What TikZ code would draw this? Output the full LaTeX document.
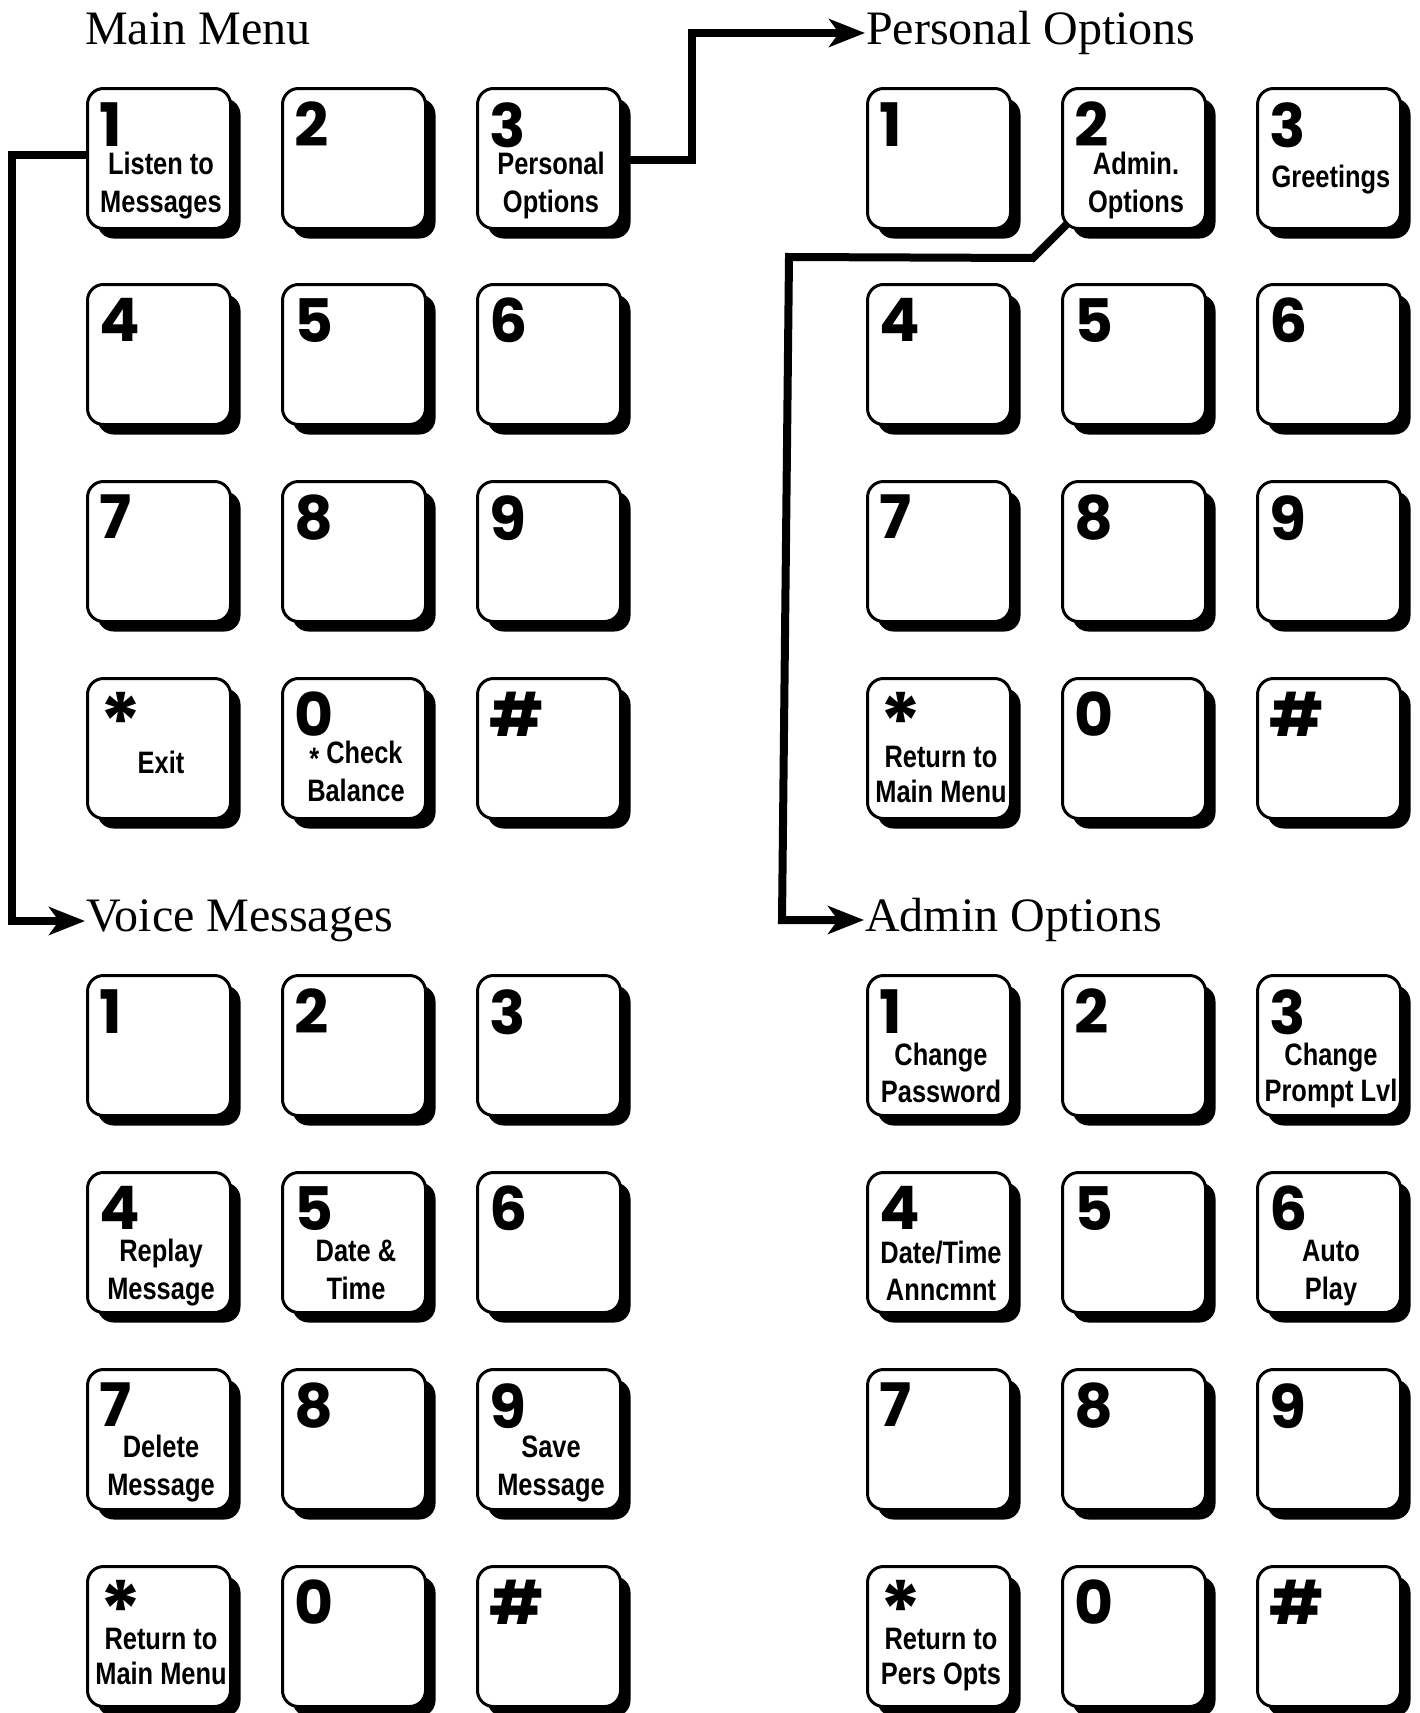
\documentclass[tikz,border=0pt]{standalone}
\usepackage{fontspec}
\usetikzlibrary{shadows,arrows.meta,backgrounds}
\setmainfont{Liberation Serif}
\newfontfamily\labfont{Liberation Sans}[UprightFont=* Bold, FakeStretch=0.82]
\newfontfamily\digfont{Poppins}[UprightFont=* Bold]
\newfontfamily\titlefont{Liberation Serif}
\tikzset{
  keyface/.style={draw, fill=white, line width=3pt, rounded corners=16pt,
    minimum width=143pt, minimum height=140pt, inner sep=0pt, anchor=north west,
    drop shadow={shadow xshift=10pt, shadow yshift=-10pt, opacity=1, fill=black}},
  keydigit/.style={anchor=north west, inner sep=0pt, font=\digfont\fontsize{60}{60}\selectfont},
  keylabel/.style={anchor=base, inner sep=0pt, font=\labfont\fontsize{31}{38}\selectfont},
  menutitle/.style={anchor=base west, inner sep=0pt, font=\titlefont\fontsize{48}{48}\selectfont},
  conn/.style={line width=8pt, -{Stealth[length=36pt,width=28pt,inset=10pt]}}
}
\newcommand\mkkey[4]{%
  \node[keyface] (#1) at (#2,#3) {};
  \node[keydigit] (#1-d) at ([shift={(13pt,-15pt)}]#1.north west) {#4};}
\newcommand\mklab[4][38]{%
  \node[keylabel] (#2-l) at ([xshift=2pt,yshift=-#3pt]#2.north)
    {\fontsize{31}{#1}\selectfont\begin{tabular}[t]{@{}c@{}}#4\end{tabular}};}
\newcommand\bigstar{{\fontsize{80}{80}\selectfont *}}
\begin{document}
\begin{tikzpicture}[x=1pt,y=-1pt]
\useasboundingbox (0,0) rectangle (1419,1713);
% titles
\node[menutitle] (mmT) at (85,44) {Main Menu};
\node[menutitle] (poT) at (866,44) {Personal Options};
\node[menutitle] (vmT) at (86,931) {Voice Messages};
\node[menutitle] (aoT) at (865,931) {Admin Options};
% Main menu
\mkkey{mm1}{86}{87}{1}\mkkey{mm2}{281}{87}{2}\mkkey{mm3}{476}{87}{3}
\mkkey{mm4}{86}{283}{4}\mkkey{mm5}{281}{283}{5}\mkkey{mm6}{476}{283}{6}
\mkkey{mm7}{86}{480}{7}\mkkey{mm8}{281}{480}{8}\mkkey{mm9}{476}{480}{9}
\mkkey{mmS}{86}{677}{\bigstar}\mkkey{mm0}{281}{677}{0}\mkkey{mmH}{476}{677}{\#}
\mklab{mm1}{87}{Listen to\\Messages}
\mklab{mm3}{87}{Personal\\Options}
\mklab{mmS}{96}{Exit}
\mklab{mm0}{86}{\raisebox{-6pt}{*} Check\\Balance}
% Personal options
\mkkey{po1}{866}{87}{1}\mkkey{po2}{1061}{87}{2}\mkkey{po3}{1256}{87}{3}
\mkkey{po4}{866}{283}{4}\mkkey{po5}{1061}{283}{5}\mkkey{po6}{1256}{283}{6}
\mkkey{po7}{866}{480}{7}\mkkey{po8}{1061}{480}{8}\mkkey{po9}{1256}{480}{9}
\mkkey{poS}{866}{677}{\bigstar}\mkkey{po0}{1061}{677}{0}\mkkey{poH}{1256}{677}{\#}
\mklab{po2}{87}{Admin.\\Options}
\mklab{po3}{100}{Greetings}
\mklab[35]{poS}{90}{Return to\\Main Menu}
% Voice messages
\mkkey{vm1}{86}{974}{1}\mkkey{vm2}{281}{974}{2}\mkkey{vm3}{476}{974}{3}
\mkkey{vm4}{86}{1171}{4}\mkkey{vm5}{281}{1171}{5}\mkkey{vm6}{476}{1171}{6}
\mkkey{vm7}{86}{1368}{7}\mkkey{vm8}{281}{1368}{8}\mkkey{vm9}{476}{1368}{9}
\mkkey{vmS}{86}{1565}{\bigstar}\mkkey{vm0}{281}{1565}{0}\mkkey{vmH}{476}{1565}{\#}
\mklab{vm4}{90}{Replay\\Message}
\mklab{vm5}{90}{Date \&\\Time}
\mklab{vm7}{89}{Delete\\Message}
\mklab{vm9}{89}{Save\\Message}
\mklab[35]{vmS}{84}{Return to\\Main Menu}
% Admin options
\mkkey{ao1}{866}{974}{1}\mkkey{ao2}{1061}{974}{2}\mkkey{ao3}{1256}{974}{3}
\mkkey{ao4}{866}{1171}{4}\mkkey{ao5}{1061}{1171}{5}\mkkey{ao6}{1256}{1171}{6}
\mkkey{ao7}{866}{1368}{7}\mkkey{ao8}{1061}{1368}{8}\mkkey{ao9}{1256}{1368}{9}
\mkkey{aoS}{866}{1565}{\bigstar}\mkkey{ao0}{1061}{1565}{0}\mkkey{aoH}{1256}{1565}{\#}
\mklab[37]{ao1}{91}{Change\\Password}
\mklab[36]{ao3}{91}{Change\\Prompt Lvl}
\mklab[37]{ao4}{92}{Date/Time\\Anncmnt}
\mklab{ao6}{90}{Auto\\Play}
\mklab[35]{aoS}{84}{Return to\\Pers Opts}
% connectors
\begin{scope}[on background layer]
\fill[white] (0,0) rectangle (1419,1713);
\coordinate (aVM) at ([xshift=-1pt,yshift=10pt]vmT.base west);
\coordinate (xA) at (12,0);
\draw[conn] ([yshift=4pt]mm1.west) -| (xA |- aVM) -- (aVM);
\coordinate (aPO) at ([xshift=-1pt,yshift=11pt]poT.base west);
\coordinate (xB) at (692,0);
\draw[conn] ([yshift=-1pt]mm3.east) -| (xB |- aPO) -- (aPO);
\coordinate (aAO) at ([xshift=-1pt,yshift=11pt]aoT.base west);
\coordinate (cA) at (789,257);
\coordinate (cB) at (782,0);
\draw[conn] ([shift={(6pt,6pt)}]po2.south west) -- ++(-34,34) -- (cA) -- (cB |- aAO) -- (aAO);
\end{scope}
\end{tikzpicture}
\end{document}
